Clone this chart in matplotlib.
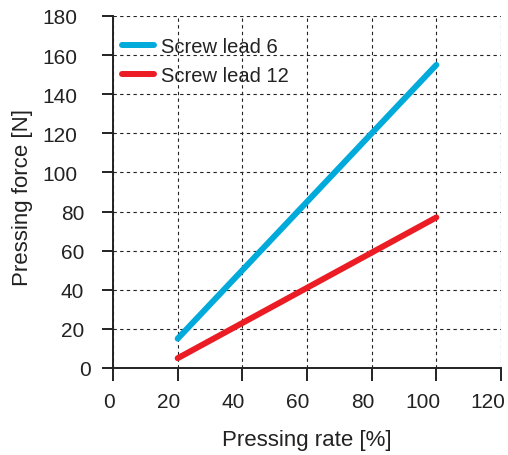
import matplotlib
matplotlib.use('Agg')
import matplotlib.pyplot as plt
from matplotlib.transforms import ScaledTranslation

plt.rcParams['font.family'] = ['Liberation Sans', 'DejaVu Sans']

# data
rate = [20, 40, 60, 80, 100]
force_lead6 = [15, 50, 85, 120, 155]
force_lead12 = [5, 23, 41, 59, 77]

fig = plt.figure(figsize=(5.08, 4.56), dpi=100)
ax = fig.add_axes([113 / 508, 1 - 369 / 456, 388 / 508, 352 / 456])

ax.plot(rate, force_lead6, color='#00AADB', lw=4.3, solid_capstyle='round', label='Screw lead 6')
ax.plot(rate, force_lead12, color='#EC1C24', lw=4.3, solid_capstyle='round', label='Screw lead 12')

ax.set_xlim(0, 120)
ax.set_ylim(0, 180)
ax.set_xticks(range(0, 121, 20))
ax.set_yticks(range(0, 181, 20))

ax.grid(True, color='#222222', ls=(0, (3, 3)), lw=0.8)
ax.set_axisbelow(True)
for s in ['top', 'right']:
    ax.spines[s].set_visible(False)
for s in ['left', 'bottom']:
    ax.spines[s].set_linewidth(1.4)
    ax.spines[s].set_color('#222222')

ax.tick_params(axis='both', labelsize=15, width=1.4, colors='#222222', labelcolor='#222222')
ax.tick_params(axis='x', length=9, pad=8)
ax.tick_params(axis='y', length=8, pad=3)

ax.set_xlabel('Pressing rate [%]', fontsize=16, color='#222222')
ax.set_ylabel('Pressing force [N]', fontsize=16, color='#222222')
ax.xaxis.set_label_coords(0.5, -0.173)
ax.yaxis.set_label_coords(-0.206, 0.487)

leg = ax.legend(loc='upper left', frameon=False, fontsize=14.5, handlelength=1.6,
                handletextpad=0.35, labelspacing=0.49, borderaxespad=0, borderpad=0,
                bbox_to_anchor=(0.023, 0.941))
for t in leg.get_texts():
    t.set_color('#222222')

# tick labels in the reference sit a little left of their ticks
fig.canvas.draw()
r = fig.canvas.get_renderer()
for lbl in ax.get_xticklabels():
    w = lbl.get_window_extent(r).width
    lbl.set_transform(lbl.get_transform() + ScaledTranslation(-0.38 * w / 100, 0, fig.dpi_scale_trans))
for lbl in ax.get_yticklabels():
    w = lbl.get_window_extent(r).width
    lbl.set_transform(lbl.get_transform() + ScaledTranslation(-0.58 * w / 100, 0, fig.dpi_scale_trans))

fig.savefig('out.png', dpi=100)
